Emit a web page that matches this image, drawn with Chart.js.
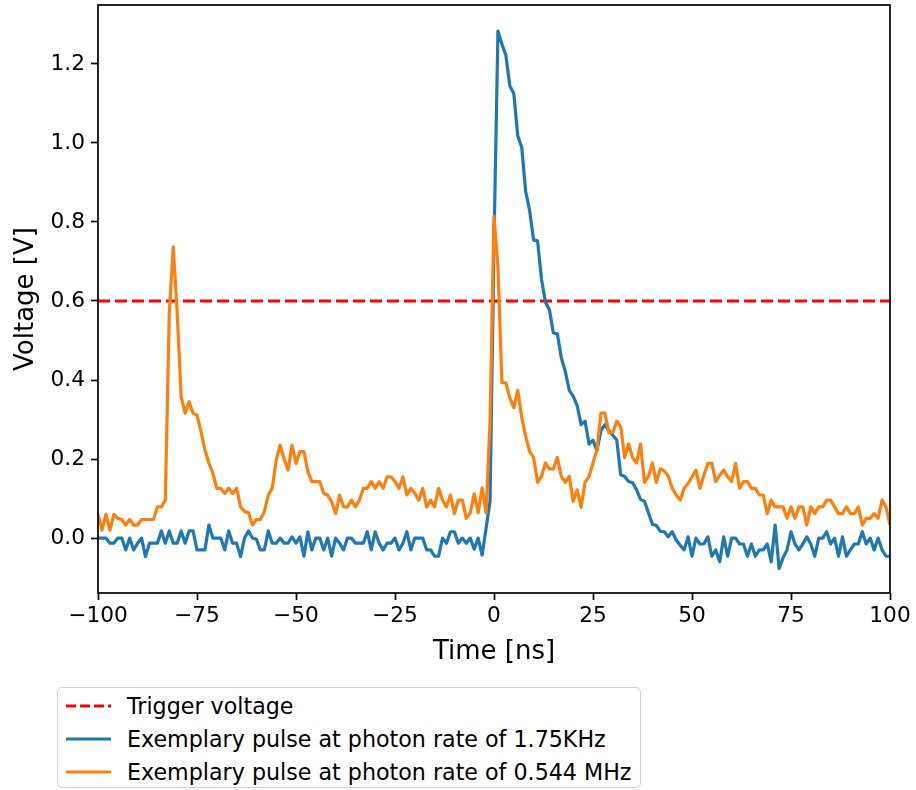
<!DOCTYPE html>
<html>
<head>
<meta charset="utf-8">
<script src="https://cdn.jsdelivr.net/npm/chart.js@4.4.1/dist/chart.umd.min.js"></script>
<style>
  body { margin: 0; background: #fff; font-family: "DejaVu Sans", sans-serif; }
  #wrap { position: relative; width: 916px; height: 790px; }
  #box { position: absolute; left: 0; top: 0; width: 916px; height: 680px; }
  #legend {
    position: absolute; left: 57px; top: 687px; width: 584px; height: 101px;
    border: 1.5px solid #d0d0d0; border-radius: 5px; box-sizing: border-box;
    font-size: 22.2px; color: #000; padding-top: 1px;
  }
  #legend .row { height: 33px; display: flex; align-items: center; }
  #legend svg { margin-left: 8px; margin-right: 16px; }
</style>
</head>
<body>
<div id="wrap">
  <div id="box"><canvas id="canvas-1"></canvas></div>
  <div id="legend"></div>
</div>
<script>
// time base, 1 ns per sample
const times = Array.from({length: 201}, (_, i) => i - 100);

const trigger = 0.6;

// 1.75 kHz pulse
const pulseLow = [
  0, 0, 0, -0.013, -0.013, 0, 0, -0.03, 0, -0.03,
  -0.013, 0, -0.047, -0.013, -0.013, -0.013, 0.018, -0.013, 0.018, -0.013,
  -0.013, 0.018, -0.013, 0.018, 0.018, -0.03, -0.03, -0.03, 0.033, 0,
  0, 0, -0.03, 0.018, -0.013, -0.013, -0.047, 0, 0.018, 0,
  -0.003, -0.03, -0.03, 0.018, -0.013, -0.013, 0, -0.013, -0.013, 0.003,
  -0.013, 0.003, -0.046, 0.016, -0.03, 0, 0, -0.03, 0, -0.046,
  0, -0.013, -0.03, 0, 0, -0.013, -0.013, -0.013, 0.016, -0.03,
  0.016, -0.013, -0.03, -0.013, -0.013, 0, -0.03, -0.013, 0.016, -0.03,
  0, 0, 0, -0.03, -0.03, -0.046, -0.046, 0, -0.013, 0.016,
  0.016, -0.013, 0, -0.013, 0, -0.028, 0, -0.043, 0.025, 0.093,
  0.75, 1.283, 1.25, 1.222, 1.144, 1.125, 1.018, 0.989, 0.877, 0.829,
  0.754, 0.752, 0.655, 0.597, 0.577, 0.519, 0.517, 0.456, 0.422, 0.374,
  0.359, 0.335, 0.287, 0.296, 0.238, 0.248, 0.221, 0.272, 0.287, 0.272,
  0.26, 0.248, 0.16, 0.156, 0.143, 0.14, 0.122, 0.098, 0.093, 0.064,
  0.035, 0.032, 0.017, 0.016, 0.003, 0.016, -0.005, -0.018, -0.03, 0.003,
  -0.046, 0, -0.015, -0.015, 0.003, -0.046, -0.03, -0.06, 0.003, -0.046,
  0, 0, -0.015, -0.015, -0.046, -0.015, -0.046, -0.03, -0.03, -0.015,
  -0.06, 0.033, -0.077, -0.05, -0.03, 0.016, -0.015, -0.03, -0.015, 0.003,
  -0.015, -0.046, 0, 0, 0.016, -0.015, 0, -0.046, 0.003, -0.046,
  -0.03, -0.015, -0.015, 0.016, -0.015, 0, -0.03, 0, -0.03, -0.046,
  -0.046
];

// 0.544 MHz pulse
const pulseHigh = [
  0.06, 0.02, 0.06, 0.02, 0.06, 0.05, 0.047, 0.033, 0.047, 0.033,
  0.033, 0.047, 0.047, 0.047, 0.047, 0.079, 0.079, 0.096, 0.57, 0.737,
  0.57, 0.358, 0.316, 0.345, 0.316, 0.311, 0.27, 0.223, 0.19, 0.164,
  0.126, 0.126, 0.113, 0.126, 0.113, 0.126, 0.079, 0.067, 0.064, 0.033,
  0.047, 0.047, 0.067, 0.109, 0.126, 0.197, 0.235, 0.2, 0.172, 0.235,
  0.189, 0.219, 0.219, 0.168, 0.143, 0.143, 0.143, 0.113, 0.109, 0.092,
  0.062, 0.109, 0.079, 0.079, 0.096, 0.079, 0.096, 0.126, 0.126, 0.143,
  0.126, 0.143, 0.126, 0.155, 0.155, 0.143, 0.126, 0.155, 0.109, 0.126,
  0.113, 0.096, 0.126, 0.079, 0.096, 0.079, 0.126, 0.096, 0.079, 0.109,
  0.062, 0.096, 0.096, 0.05, 0.064, 0.112, 0.064, 0.127, 0.064, 0.296,
  0.815, 0.684, 0.393, 0.393, 0.354, 0.33, 0.374, 0.306, 0.257, 0.219,
  0.204, 0.141, 0.156, 0.19, 0.175, 0.175, 0.204, 0.156, 0.141, 0.156,
  0.093, 0.122, 0.078, 0.141, 0.156, 0.19, 0.224, 0.316, 0.316, 0.267,
  0.267, 0.296, 0.282, 0.204, 0.238, 0.204, 0.19, 0.238, 0.141, 0.156,
  0.19, 0.141, 0.175, 0.17, 0.157, 0.126, 0.109, 0.096, 0.126, 0.138,
  0.155, 0.172, 0.126, 0.159, 0.189, 0.189, 0.143, 0.159, 0.172, 0.155,
  0.143, 0.189, 0.126, 0.143, 0.143, 0.126, 0.126, 0.109, 0.109, 0.062,
  0.096, 0.079, 0.079, 0.079, 0.05, 0.079, 0.05, 0.079, 0.079, 0.033,
  0.079, 0.062, 0.079, 0.079, 0.096, 0.096, 0.079, 0.062, 0.062, 0.079,
  0.062, 0.062, 0.079, 0.033, 0.05, 0.05, 0.062, 0.05, 0.096, 0.079,
  0.033
];

const xTicks = [-100, -75, -50, -25, 0, 25, 50, 75, 100];
const yTicks = [0, 0.2, 0.4, 0.6, 0.8, 1.0, 1.2];

const labels = ['Trigger voltage', 'Exemplary pulse at photon rate of 1.75KHz', 'Exemplary pulse at photon rate of 0.544 MHz'];
const colors = ['#ff0000', '#1f77b4', '#ff7f0e'];

const toPoints = (vals) => vals.map((v, i) => ({x: times[i], y: v}));

const frame = {
  id: 'frame',
  afterDatasetsDraw(chart) {
    const a = chart.chartArea, ctx = chart.ctx;
    ctx.save();
    ctx.strokeStyle = '#000';
    ctx.lineWidth = 1.7;
    ctx.strokeRect(a.left, a.top, a.right - a.left, a.bottom - a.top);
    ctx.restore();
  }
};

const font = {family: 'DejaVu Sans', size: 21.7};

// first dataset is drawn on top
const chart = new Chart(document.getElementById('canvas-1'), {
  type: 'line',
  data: {
    datasets: [{
      label: labels[2],
      data: toPoints(pulseHigh),
      borderColor: colors[2],
      borderWidth: 3.2
    }, {
      label: labels[1],
      data: toPoints(pulseLow),
      borderColor: colors[1],
      borderWidth: 3.2
    }, {
      label: labels[0],
      data: [{x: times[0], y: trigger}, {x: times[times.length - 1], y: trigger}],
      borderColor: colors[0],
      borderWidth: 3.2,
      borderDash: [12, 5]
    }]
  },
  options: {
    responsive: true,
    maintainAspectRatio: false,
    animation: false,
    events: [],
    layout: {padding: {left: 0, top: 5, right: 26, bottom: 0}},
    elements: {
      point: {radius: 0},
      line: {tension: 0, borderJoinStyle: 'round', fill: false}
    },
    plugins: {legend: {display: false}, tooltip: {enabled: false}},
    scales: {
      x: {
        type: 'linear',
        min: -100,
        max: 100,
        afterFit: (s) => { s.height = 87; s.paddingLeft = 0; s.paddingRight = 0; },
        afterBuildTicks: (s) => { s.ticks = xTicks.map(v => ({value: v})); },
        border: {display: false},
        grid: {drawOnChartArea: false, tickLength: 7, tickWidth: 1.7, tickColor: '#000'},
        ticks: {
          color: '#000', font: font, padding: 3, maxRotation: 0, autoSkip: false,
          callback: (v) => v < 0 ? '\u2212' + Math.abs(v) : String(v)
        },
        title: {display: true, text: 'Time [ns]', color: '#000',
          font: {family: 'DejaVu Sans', size: 26}, padding: {top: 0, bottom: 12}}
      },
      y: {
        type: 'linear',
        min: -0.139,
        max: 1.349,
        afterFit: (s) => { s.width = 98; s.paddingTop = 0; s.paddingBottom = 0; },
        afterBuildTicks: (s) => { s.ticks = yTicks.map(v => ({value: v})); },
        border: {display: false},
        grid: {drawOnChartArea: false, tickLength: 7, tickWidth: 1.7, tickColor: '#000'},
        ticks: {
          color: '#000', font: font, padding: 6,
          callback: (v) => v.toFixed(1)
        },
        title: {display: true, text: 'Voltage [V]', color: '#000',
          font: {family: 'DejaVu Sans', size: 26}, padding: {top: 11, bottom: 0}}
      }
    }
  },
  plugins: [frame]
});

// legend below the axes
const legend = document.getElementById('legend');
labels.forEach((text, i) => {
  const row = document.createElement('div');
  row.className = 'row';
  const dash = i === 0 ? ' stroke-dasharray="10 4"' : '';
  row.innerHTML = '<svg width="45" height="10"><line x1="0" y1="5" x2="45" y2="5" stroke="' +
    colors[i] + '" stroke-width="3.2"' + dash + '/></svg><span>' + text + '</span>';
  legend.appendChild(row);
});
</script>
</body>
</html>
